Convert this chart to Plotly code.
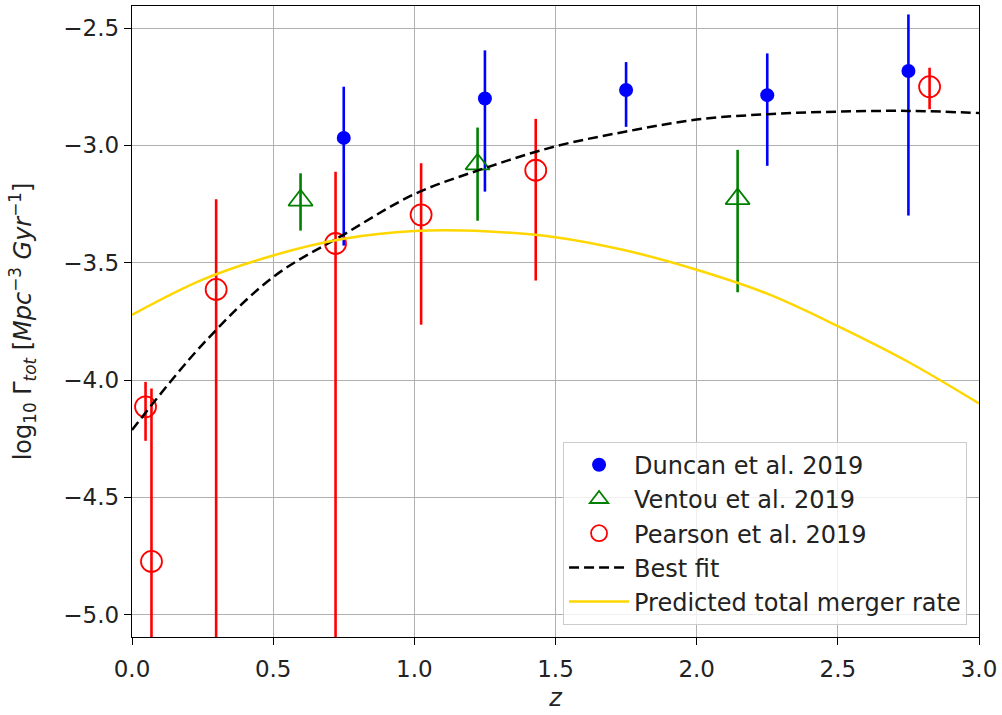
import plotly.graph_objects as go

# ---- data ----
duncan_z = [0.75, 1.25, 1.75, 2.25, 2.75]
duncan_y = [-2.968, -2.800, -2.764, -2.786, -2.683]
duncan_hi = [-2.750, -2.595, -2.645, -2.608, -2.442]
duncan_lo = [-3.427, -3.197, -2.921, -3.087, -3.299]

ventou_z = [0.597, 1.224, 2.145]
ventou_y = [-3.234, -3.080, -3.228]
ventou_hi = [-3.119, -2.924, -3.019]
ventou_lo = [-3.363, -3.321, -3.626]

pearson_z = [0.048, 0.069, 0.298, 0.721, 1.024, 1.430, 2.825]
pearson_y = [-4.114, -4.773, -3.614, -3.418, -3.296, -3.106, -2.750]
pearson_hi = [-4.008, -4.036, -3.230, -3.112, -3.076, -2.887, -2.669]
pearson_lo = [-4.259, -6.0, -6.0, -6.0, -3.764, -3.576, -2.846]

fit_z = [0.0, 0.25, 0.5, 0.75, 1.0, 1.25, 1.5, 1.75, 2.0, 2.25, 2.5, 2.75, 3.0]
fit_y = [-4.213, -3.848, -3.561, -3.380, -3.208, -3.097, -3.004, -2.941,
         -2.890, -2.867, -2.856, -2.853, -2.862]

pred_z = [0.0, 0.25, 0.5, 0.75, 1.0, 1.25, 1.5, 1.75, 2.0, 2.25, 2.5, 2.75, 3.0]
pred_y = [-3.722, -3.572, -3.469, -3.398, -3.365, -3.366, -3.391, -3.448,
          -3.530, -3.632, -3.770, -3.923, -4.100]

x_ticks = [0.0, 0.5, 1.0, 1.5, 2.0, 2.5, 3.0]
x_ticktext = ["0.0", "0.5", "1.0", "1.5", "2.0", "2.5", "3.0"]
y_ticks = [-5.0, -4.5, -4.0, -3.5, -3.0, -2.5]
y_ticktext = ["\u22125.0", "\u22124.5", "\u22124.0", "\u22123.5", "\u22123.0", "\u22122.5"]

FONT = "DejaVu Sans"
TICK_FS = 23
LABEL_FS = 24
TXT = "#222222"


def errs(y, hi, lo):
    return [h - v for v, h in zip(y, hi)], [v - l for v, l in zip(y, lo)]


fig = go.Figure()

ep, em = errs(duncan_y, duncan_hi, duncan_lo)
fig.add_trace(go.Scatter(
    x=duncan_z, y=duncan_y, mode="markers", name="Duncan et al. 2019",
    legendgroup="a",
    marker=dict(symbol="circle", size=14, color="#0000ff"),
    error_y=dict(type="data", symmetric=False, array=ep, arrayminus=em,
                 color="#0000ff", thickness=2.6, width=0)))

ep, em = errs(ventou_y, ventou_hi, ventou_lo)
fig.add_trace(go.Scatter(
    x=ventou_z, y=ventou_y, mode="markers", name="Ventou et al. 2019",
    legendgroup="b",
    marker=dict(symbol="triangle-up-open", size=21, color="#008000",
                line=dict(width=1.8, color="#008000")),
    error_y=dict(type="data", symmetric=False, array=ep, arrayminus=em,
                 color="#008000", thickness=2.6, width=0)))

ep, em = errs(pearson_y, pearson_hi, pearson_lo)
fig.add_trace(go.Scatter(
    x=pearson_z, y=pearson_y, mode="markers", name="Pearson et al. 2019",
    legendgroup="c",
    marker=dict(symbol="circle-open", size=21, color="#ff0000",
                line=dict(width=1.8, color="#ff0000")),
    error_y=dict(type="data", symmetric=False, array=ep, arrayminus=em,
                 color="#ff0000", thickness=2.6, width=0)))

fig.add_trace(go.Scatter(
    x=fit_z, y=fit_y, mode="lines", name="Best fit", legendgroup="d",
    line=dict(color="black", width=2.5, dash="10px,5px", shape="spline", smoothing=1.0)))

fig.add_trace(go.Scatter(
    x=pred_z, y=pred_y, mode="lines", name="Predicted total merger rate",
    legendgroup="e",
    line=dict(color="#FFD700", width=2.5, shape="spline", smoothing=1.0)))

axis_common = dict(
    showline=True, linecolor="black", linewidth=1.4, mirror=True,
    ticks="outside", ticklen=7, tickwidth=1.4, tickcolor="black",
    showgrid=True, gridcolor="#b0b0b0", gridwidth=1.3,
    zeroline=False, tickfont=dict(family=FONT, size=TICK_FS, color=TXT),
)

fig.update_xaxes(range=[0, 3], tickvals=x_ticks, ticktext=x_ticktext,
                 title=dict(text="<i>z</i>", font=dict(family=FONT, size=LABEL_FS, color=TXT),
                            standoff=8),
                 ticklabelstandoff=4,
                 **axis_common)
fig.update_yaxes(range=[-5.095, -2.406], tickvals=y_ticks, ticktext=y_ticktext,
                 title=dict(text="log<sub>10</sub> \u0393<sub><i>tot</i></sub> [<i>Mpc</i><sup>\u22123</sup> <i>Gyr</i><sup>\u22121</sup>]",
                            font=dict(family=FONT, size=LABEL_FS, color=TXT), standoff=24),
                 ticklabelstandoff=0,
                 **axis_common)

fig.update_layout(
    width=1002, height=715,
    margin=dict(l=132, r=19, t=5, b=78),
    paper_bgcolor="white", plot_bgcolor="white",
    font=dict(family=FONT, size=TICK_FS, color=TXT),
    showlegend=True,
    legend=dict(x=0.9859, y=0.0195, xanchor="right", yanchor="bottom",
                bgcolor="rgba(255,255,255,0.8)", bordercolor="#cccccc", borderwidth=1,
                font=dict(family=FONT, size=LABEL_FS, color=TXT),
                tracegroupgap=4, itemwidth=60, traceorder="normal"),
)

fig.write_html("out.html",
               config={"displayModeBar": False},
               post_script="document.body.style.margin='0';document.body.style.overflow='hidden';")
